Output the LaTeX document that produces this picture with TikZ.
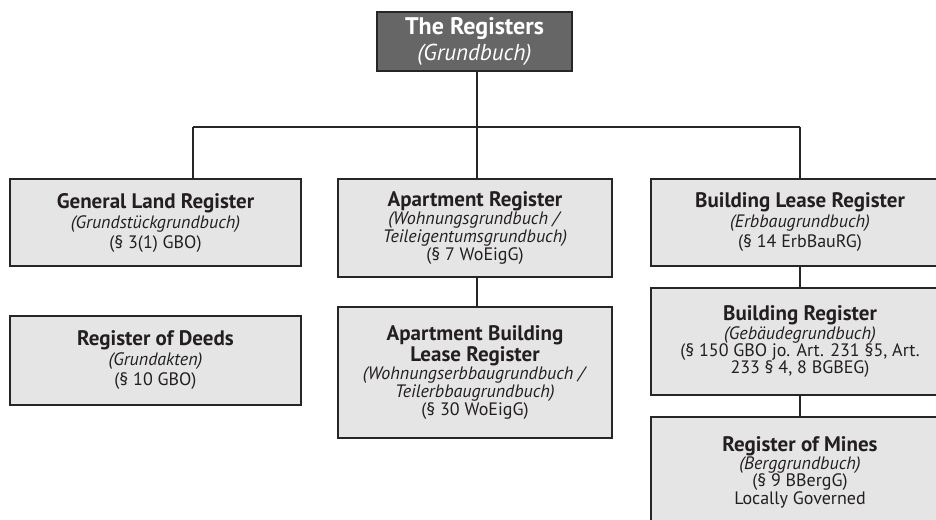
\documentclass[tikz,border=0pt]{standalone}
\usepackage{fontspec}
\setmainfont{PT Sans}
\definecolor{boxfill}{HTML}{E5E5E5}
\definecolor{topfill}{HTML}{666666}
\definecolor{linec}{HTML}{262626}
\definecolor{textc}{HTML}{231F20}
\newcommand{\bt}[1]{{\fontsize{21}{16}\selectfont\bfseries #1}}
\begin{document}
\begin{tikzpicture}[x=1pt,y=-1pt,
  box/.style={draw=linec, line width=2pt, fill=boxfill, align=center, inner sep=0pt,
    text=textc, font=\fontsize{18}{16.5}\selectfont},
  wide/.style={font=\fontsize{18}{20}\selectfont},
  topbox/.style={draw=linec, line width=2pt, fill=topfill, align=center, inner sep=0pt,
    text=white, font=\fontsize{23}{26}\selectfont},
  conn/.style={draw=linec, line width=2pt}]
\useasboundingbox (0,0) rectangle (936,519);
\clip (0,0) rectangle (936,519);
\node[topbox, minimum width=195pt, minimum height=59pt] (top) at (474.5,41.5)
  {{\fontsize{24}{26}\selectfont\bfseries The Registers}\\\textit{(Grundbuch)}};
\node[box, wide, minimum width=291pt, minimum height=87pt] (gen) at (155.5,222.5)
  {\bt{General Land Register}\\\textit{(Grundstückgrundbuch)}\\(§ 3(1) GBO)};
\node[box, wide, minimum width=291pt, minimum height=89pt] (deeds) at (155.5,360.5)
  {\bt{Register of Deeds}\\\textit{(Grundakten)}\\(§ 10 GBO)};
\node[box, minimum width=274pt, minimum height=98pt] (apt) at (475,228)
  {\bt{Apartment Register}\\\textit{(Wohnungsgrundbuch /}\\\textit{Teileigentumsgrundbuch)}\\(§ 7 WoEigG)};
\node[box, minimum width=274pt, minimum height=131pt] (aptlease) at (475,372.5)
  {\bt{Apartment Building}\\\bt{Lease Register}\\\textit{(Wohnungserbbaugrundbuch /}\\\textit{Teilerbbaugrundbuch)}\\(§ 30 WoEigG)};
\node[box, wide, minimum width=298pt, minimum height=87pt] (lease) at (800,222.5)
  {\bt{Building Lease Register}\\\textit{(Erbbaugrundbuch)}\\(§ 14 ErbBauRG)};
\node[box, font=\fontsize{18}{17}\selectfont, minimum width=298pt, minimum height=107pt] (build) at (800,341.5)
  {\bt{Building Register}\\\textit{(Gebäudegrundbuch)}\\(§ 150 GBO jo. Art. 231 §5, Art.\\233 § 4, 8 BGBEG)};
\node[box, font=\fontsize{18}{17.5}\selectfont, minimum width=298pt, minimum height=111pt] (mines) at (800,472.5)
  {\bt{Register of Mines}\\\textit{(Berggrundbuch)}\\(§ 9 BBergG)\\Locally Governed};
\coordinate (j) at (477,127);
\coordinate (jl) at (193,127);
\coordinate (jr) at (800,127);
\draw[conn] (top.south -| j) -- (j);
\draw[conn] (jl) -- (jr);
\draw[conn] (jl) -- (jl |- gen.north);
\draw[conn] (j) -- (j |- apt.north);
\draw[conn] (jr) -- (lease.north);
\draw[conn] (apt.south -| j) -- (j |- aptlease.north);
\draw[conn] (lease.south) -- (build.north);
\draw[conn] (build.south) -- (mines.north);
\end{tikzpicture}
\end{document}
